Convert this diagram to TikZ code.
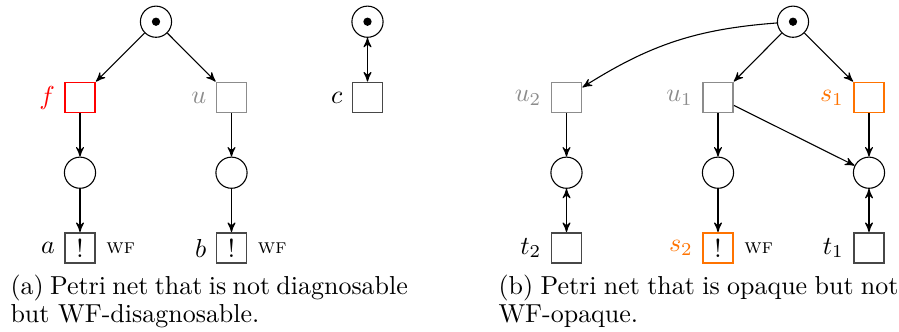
\documentclass[tikz,border=0pt]{standalone}
\usetikzlibrary{arrows}
\definecolor{sorange}{RGB}{255,115,0}
\definecolor{ugray}{gray}{0.55}
\begin{document}
\begin{tikzpicture}[x=0.385pt,y=-0.385pt,
  place/.style={circle,draw,line width=0.42pt,minimum size=12pt,inner sep=0pt},
  trans/.style={rectangle,draw=black!72,line width=0.7pt,minimum size=11.6pt,inner sep=0pt},
  arc/.style={->,>=stealth',line width=0.42pt},
  biarc/.style={<->,>=stealth',line width=0.42pt},
  lab/.style={label distance=0pt},
  wf/.style={label={[label distance=0.5pt]right:{\footnotesize\textsc{wf}}}},
  captext/.style={anchor=north west,inner sep=0pt,align=justify,font=\fontsize{10}{10.8}\selectfont},
  tok/.style={fill=black}]
\useasboundingbox (0,0) rectangle (899,331);
% ---------- (a) ----------
\node[place] (pa) at (156,21.7) {};
\fill[tok] (pa.center) circle (1.6pt);
\node[trans,draw=red,label={[lab,text=red]left:$f$}] (f) at (80,97.5) {};
\node[trans,draw=ugray,label={[lab,text=ugray]left:$u$}] (u) at (231.5,97.5) {};
\node[place] (pf) at (80,172.7) {};
\node[place] (pu) at (231.5,172.7) {};
\node[trans,wf,label={[lab]left:$a$}] (a) at (80,248) {!};
\node[trans,wf,label={[lab]left:$b$}] (b) at (231.5,248) {!};
\node[place] (pc) at (367.5,21.7) {};
\fill[tok] (pc.center) circle (1.6pt);
\node[trans,label={[lab]left:$c$}] (c) at (367.5,97.5) {};
\draw[arc] (pa) -- (f);
\draw[arc] (pa) -- (u);
\draw[arc] (f) -- (pf);
\draw[arc] (pf) -- (a);
\draw[arc] (u) -- (pu);
\draw[arc] (pu) -- (b);
\draw[biarc] (pc) -- (c);
\node[captext,text width=153pt] (capa) at (10,274)
  {(a) Petri net that is not diagnosable but WF-disagnosable.};
% ---------- (b) ----------
\node[place] (pb) at (793,21.7) {};
\fill[tok] (pb.center) circle (1.6pt);
\node[trans,draw=ugray,label={[lab,text=ugray]left:$u_2$}] (u2) at (566.5,97.5) {};
\node[trans,draw=ugray,label={[lab,text=ugray]left:$u_1$}] (u1) at (718,97.5) {};
\node[trans,draw=sorange,label={[lab,text=sorange]left:$s_1$}] (s1) at (869,97.5) {};
\node[place] (q2) at (566.5,172.7) {};
\node[place] (q1) at (718,172.7) {};
\node[place] (q3) at (869,172.7) {};
\node[trans,label={[lab]left:$t_2$}] (t2) at (566.5,248) {};
\node[trans,draw=sorange,wf,label={[lab,text=sorange]left:$s_2$}] (s2) at (718,248) {!};
\node[trans,label={[lab]left:$t_1$}] (t1) at (869,248) {};
\draw[arc] (pb) to[bend right=14] (u2);
\draw[arc] (pb) -- (u1);
\draw[arc] (pb) -- (s1);
\draw[arc] (u2) -- (q2);
\draw[biarc] (q2) -- (t2);
\draw[arc] (u1) -- (q1);
\draw[arc] (q1) -- (s2);
\draw[arc] (u1) -- (q3);
\draw[arc] (s1) -- (q3);
\draw[biarc] (q3) -- (t1);
\node[captext,text width=154pt] (capb) at (498,274)
  {(b) Petri net that is opaque but not WF-opaque.};
\end{tikzpicture}
\end{document}
